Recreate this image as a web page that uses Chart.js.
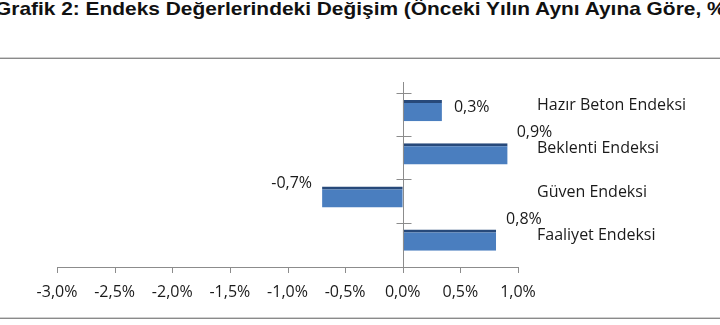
<!DOCTYPE html>
<html>
<head>
<meta charset="utf-8">
<script src="https://cdn.jsdelivr.net/npm/chart.js@4.4.0/dist/chart.umd.min.js"></script>
<style>
  html, body { margin: 0; padding: 0; background: #fff; overflow: hidden; }
  #wrap { position: relative; width: 720px; height: 325px; overflow: hidden; }
  #title {
    position: absolute; left: -5px; top: -2px; white-space: nowrap;
    font-family: "Liberation Sans", Arial, sans-serif; font-weight: bold; font-size: 19px;
    color: #111; transform-origin: 0 0; transform: scaleX(1.1);
  }
  .rule { position: absolute; left: 0; width: 720px; height: 1px; background: #8a8a8a; border-top: 1px solid #d0d0d0; }
  canvas { position: absolute; left: 0; top: 0; }
</style>
</head>
<body>
<div id="wrap">
  <div id="title">Grafik 2: Endeks Değerlerindeki Değişim (Önceki Yılın Aynı Ayına Göre, %)</div>
  <div class="rule" style="top:57px"></div>
  <div class="rule" style="top:317px"></div>
  <canvas id="endeks" width="720" height="325"></canvas>
</div>
<script>
// categories, top to bottom
const categories = ['Hazır Beton Endeksi', 'Beklenti Endeksi', 'Güven Endeksi', 'Faaliyet Endeksi']
// yearly change, %
const values = [0.34, 0.91, -0.70, 0.81]
const valueLabels = ['0,3%', '0,9%', '-0,7%', '0,8%']
const xTicks = [-3.0, -2.5, -2.0, -1.5, -1.0, -0.5, 0.0, 0.5, 1.0]

// where each value label sits relative to its bar (dx from bar end, dy from bar centre)
const labelPlace = [[12, -3], [9, -21], [-10, -14], [10, -21]]

const textFont = '"Open Sans", sans-serif'

const axisPlugin = {
  id: 'axisDecor',
  afterDatasetsDraw(chart) {
    const ctx = chart.ctx
    const x = chart.scales.x
    const y = chart.scales.y
    const area = chart.chartArea
    const zero = x.getPixelForValue(0)
    const cell = (area.bottom - area.top) / categories.length
    const axisY = Math.round(area.bottom + 5)

    ctx.save()
    ctx.strokeStyle = '#8c8c8c'
    ctx.lineWidth = 1
    // x axis line + ticks
    ctx.beginPath()
    ctx.moveTo(x.left, axisY + 0.5)
    ctx.lineTo(x.right, axisY + 0.5)
    xTicks.forEach(v => {
      const px = Math.round(x.getPixelForValue(v)) + 0.5
      ctx.moveTo(px, axisY)
      ctx.lineTo(px, axisY + 6)
    })
    // vertical axis at zero + cross ticks
    const zx = Math.round(zero) + 0.5
    ctx.moveTo(zx, area.top - 7)
    ctx.lineTo(zx, axisY + 6)
    categories.forEach((c, i) => {
      const ty = Math.round(y.getPixelForValue(i) - cell / 2 + 4) + 0.5
      ctx.moveTo(zx - 7, ty)
      ctx.lineTo(zx + 8, ty)
    })
    ctx.stroke()

    // category names and value labels
    const meta = chart.getDatasetMeta(0)
    ctx.fillStyle = '#1a1a1a'
    ctx.textBaseline = 'middle'
    meta.data.forEach((bar, i) => {
      ctx.font = '16px ' + textFont
      ctx.textAlign = 'left'
      ctx.fillText(categories[i], area.right + 19, bar.y - 5)

      const [dx, dy] = labelPlace[i]
      ctx.textAlign = values[i] < 0 ? 'right' : 'left'
      ctx.fillText(valueLabels[i], bar.x + dx, bar.y + dy)
    })
    ctx.restore()
  }
}

const ctx = document.querySelector('#endeks')
const endeksChart = new Chart(ctx, {
  type: 'bar',
  data: {
    labels: categories,
    datasets: [{
      label: 'Değişim',
      data: values,
      backgroundColor: '#4a7ebf',
      borderColor: '#27497a',
      borderWidth: { top: 3, right: 0, bottom: 0, left: 0 },
      borderSkipped: false,
      categoryPercentage: 1,
      barPercentage: 0.49
    }]
  },
  options: {
    indexAxis: 'y',
    responsive: false,
    animation: false,
    devicePixelRatio: 1,
    layout: { padding: { left: 57, right: 202, top: 89, bottom: 2 } },
    plugins: { legend: { display: false }, tooltip: { enabled: false } },
    scales: {
      x: {
        min: -3,
        max: 1,
        afterBuildTicks: (scale) => { scale.ticks = xTicks.map(v => ({ value: v })) },
        grid: { display: false, drawTicks: false },
        border: { display: false },
        ticks: {
          padding: 21,
          color: '#1a1a1a',
          font: { family: textFont, size: 16 },
          callback: (v) => v.toFixed(1).replace('.', ',') + '%'
        }
      },
      y: {
        display: false,
        grid: { display: false }
      }
    }
  },
  plugins: [axisPlugin]
})
</script>
</body>
</html>
